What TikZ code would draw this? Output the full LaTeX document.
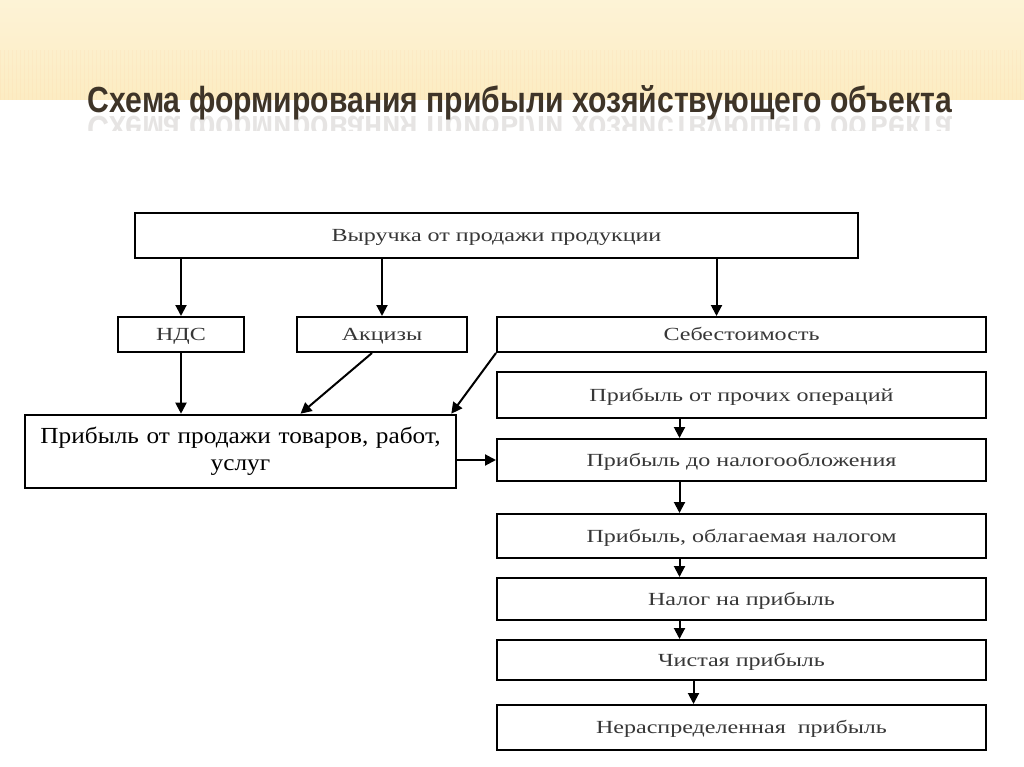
\documentclass[tikz,border=0pt]{standalone}
\usepackage{fontspec}
\setmainfont{Liberation Serif}
\newfontfamily\boxfont[FakeStretch=1.3]{Liberation Serif}
\newfontfamily\salesfont[FakeStretch=1.1]{Liberation Serif}
\newfontfamily\titlefont{Liberation Sans}
\usetikzlibrary{arrows.meta}
\definecolor{banner}{RGB}{252,236,194}
\definecolor{bannertop}{RGB}{253,243,214}
\definecolor{titlebrown}{RGB}{62,52,40}
\definecolor{boxtext}{RGB}{55,55,55}

\begin{document}
\begin{tikzpicture}[x=1pt,y=-1pt,
    box/.style={draw, line width=2pt, inner sep=0pt, align=center,
        text height=15pt, text depth=3pt,
        font=\boxfont\fontsize{18.5}{20}\selectfont, text=boxtext},
    wide/.style={box, minimum width=489pt},
    arr/.style={line width=2pt, -{Triangle[width=11pt,length=11pt]}}]
    \useasboundingbox (0,0) rectangle (1024,767);
    \fill[white] (0,0) rectangle (1024,767);
    % banner
    \shade[top color=bannertop, bottom color=banner] (0,0) rectangle (1024,100);
    \foreach \i in {0,4,...,1024}
        \draw[orange!40, opacity=0.12, line width=1pt] (\i,50) -- (\i,100);
    \node[anchor=base, text=titlebrown] (title) at (520,113)
        {\resizebox{864pt}{27pt}{\titlefont\bfseries Схема формирования прибыли хозяйствующего объекта}};
    \begin{scope}
        \clip (0,116) rectangle (1024,131);
        \node[anchor=base, text=titlebrown, opacity=0.13, yscale=-1, transform shape] (mirror) at (520,117)
            {\resizebox{864pt}{27pt}{\titlefont\bfseries Схема формирования прибыли хозяйствующего объекта}};
    \end{scope}

    % boxes
    \node[box, minimum width=723pt, minimum height=45pt] (rev) at (496.5,235.5) {Выручка от продажи продукции};
    \node[box, minimum width=126pt, minimum height=35pt] (vat) at (181,334.5) {НДС};
    \node[box, minimum width=170pt, minimum height=35pt] (exc) at (382,334.5) {Акцизы};
    \node[wide, minimum height=35pt] (cost) at (741.5,334.5) {Себестоимость};
    \node[wide, minimum height=46pt] (other) at (741.5,395) {Прибыль от прочих операций};
    \node[box, line width=2.6pt, minimum width=431pt, minimum height=73pt, text width=425pt, text=black,
        text height=, text depth=,
        font=\salesfont\fontsize{23}{27}\selectfont] (sales) at (240.5,451.5) {Прибыль от продажи товаров, работ,\\ услуг};
    \node[wide, minimum height=42pt] (pretax) at (741.5,460) {Прибыль до налогообложения};
    \node[wide, minimum height=44pt] (taxable) at (741.5,536) {Прибыль, облагаемая налогом};
    \node[wide, minimum height=42pt] (tax) at (741.5,599) {Налог на прибыль};
    \node[wide, minimum height=40pt] (net) at (741.5,660) {Чистая прибыль};
    \node[wide, minimum height=45pt] (retained) at (741.5,727.5) {Нераспределенная\ \ прибыль};

    % arrows
    \draw[arr] (vat.north |- rev.south) -- (vat.north);
    \draw[arr] (exc.north |- rev.south) -- (exc.north);
    \draw[arr] ([xshift=-25pt]cost.north |- rev.south) -- ([xshift=-25pt]cost.north);
    \draw[arr] (vat.south) -- (vat.south |- sales.north);
    \draw[arr] ([xshift=-10pt]exc.south) -- ([xshift=60pt]sales.north);
    \draw[arr] (cost.south west) -- ([xshift=-6pt]sales.north east);
    \draw[arr] (pretax.west -| sales.east) -- (pretax.west);
    \draw[arr] ([xshift=-62pt]other.south) -- ([xshift=-62pt]pretax.north);
    \draw[arr] ([xshift=-62pt]pretax.south) -- ([xshift=-62pt]taxable.north);
    \draw[arr] ([xshift=-62pt]taxable.south) -- ([xshift=-62pt]tax.north);
    \draw[arr] ([xshift=-62pt]tax.south) -- ([xshift=-62pt]net.north);
    \draw[arr] ([xshift=-48pt]net.south) -- ([xshift=-48pt]retained.north);
\end{tikzpicture}
\end{document}
